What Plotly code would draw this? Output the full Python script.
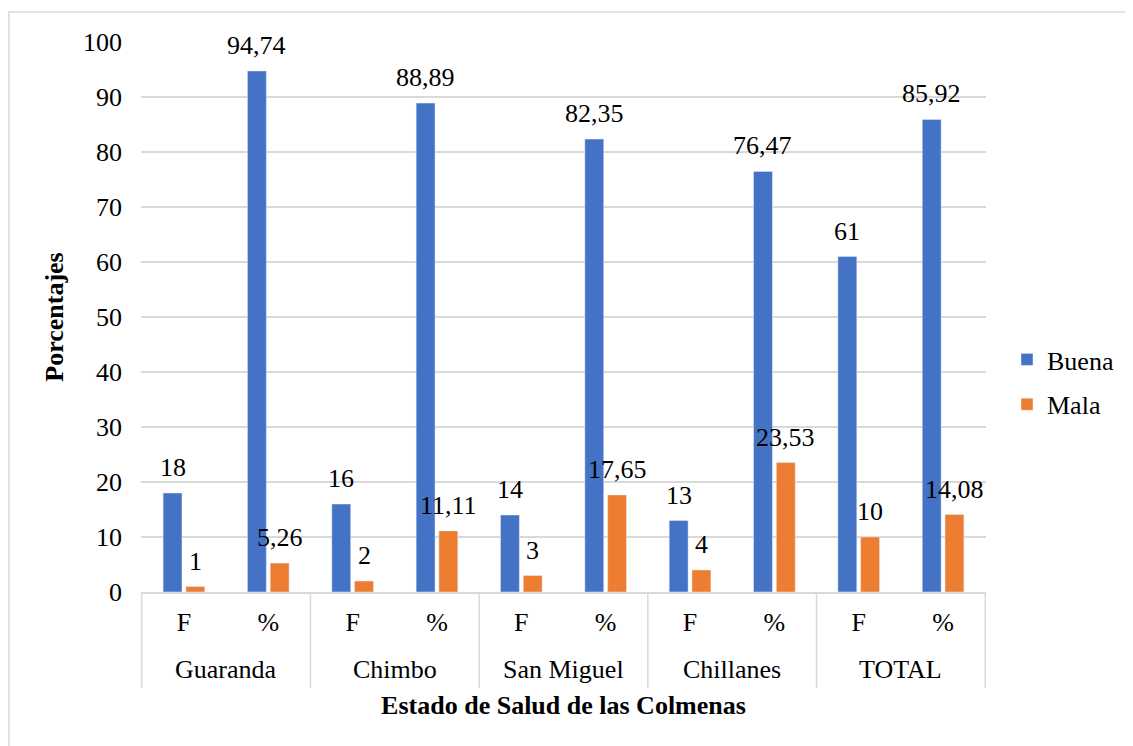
import plotly.graph_objects as go

groups = ["Guaranda", "Guaranda", "Chimbo", "Chimbo", "San Miguel", "San Miguel",
          "Chillanes", "Chillanes", "TOTAL", "TOTAL"]
subcats = ["F", "%", "F", "%", "F", "%", "F", "%", "F", "%"]
buena = [18, 94.74, 16, 88.89, 14, 82.35, 13, 76.47, 61, 85.92]
mala = [1, 5.26, 2, 11.11, 3, 17.65, 4, 23.53, 10, 14.08]
y_ticks = [0, 10, 20, 30, 40, 50, 60, 70, 80, 90, 100]


def fmt(v):
    return f"{v:g}".replace(".", ",")


# page body adds an 8px margin; work in screen pixels and convert
OFF = 8
W, H = 1133 - OFF, 746 - OFF
PL, PR, PT, PB = 141, 986, 42, 592  # plot area in screen px
L, R, T, B = PL - OFF, W - (PR - OFF), PT - OFF, H - (PB - OFF)
FONT = "Liberation Serif, Times New Roman, serif"
FS = 26

pw = W - L - R
ph = H - T - B


def px_x(x):
    return (x - OFF - L) / pw


def px_y(y):
    return (H - B - (y - OFF)) / ph


BARGAP, GROUPGAP = 0.46, 0.17
slot = (1 - BARGAP) / 2  # width per trace in category units

cats = [f"{g}|{s}" for g, s in zip(groups, subcats)]

fig = go.Figure()
series = [("Buena", buena, "#4472C4"), ("Mala", mala, "#ED7D31")]
for k, (name, vals, color) in enumerate(series):
    fig.add_trace(go.Bar(
        x=cats, y=vals, name=name, marker_color=color, legendgroup=name,
    ))
    # data labels, centred over each grouped bar
    shift = (k - (len(series) - 1) / 2) * slot
    for i, v in enumerate(vals):
        fig.add_annotation(x=i + shift, xref="x", y=v, yref="y", text=fmt(v),
                           showarrow=False, yanchor="bottom", yshift=9,
                           font=dict(size=FS, family=FONT, color="#000000"))

# outer chart border
fig.add_shape(type="rect", xref="paper", yref="paper",
              x0=px_x(9), x1=px_x(1145), y0=px_y(760), y1=px_y(12),
              line=dict(color="#d9d9d9", width=1.5), layer="below")

# group labels and dividers of the two-level category axis
unique_groups = list(dict.fromkeys(groups))
for g in unique_groups:
    idx = [i for i, gg in enumerate(groups) if gg == g]
    fig.add_annotation(x=sum(idx) / len(idx), xref="x", y=px_y(669), yref="paper",
                       text=g, showarrow=False, yanchor="middle",
                       font=dict(size=FS, family=FONT, color="#000000"))
bounds = [-0.5] + [i + 0.5 for i in range(len(groups) - 1) if groups[i] != groups[i + 1]] + [len(groups) - 0.5]
for b in bounds:
    fig.add_shape(type="line", xref="x", yref="paper", x0=b, x1=b,
                  y0=px_y(592), y1=px_y(688), line=dict(color="#d9d9d9", width=1.5))

fig.update_layout(
    width=W, height=H,
    margin=dict(l=L, r=R, t=T, b=B, autoexpand=False),
    paper_bgcolor="white", plot_bgcolor="white",
    font=dict(family=FONT, size=FS, color="#000000"),
    barmode="group", bargap=BARGAP, bargroupgap=GROUPGAP,
    showlegend=True,
    legend=dict(x=px_x(1007), y=px_y(336), xanchor="left", yanchor="top",
                font=dict(size=FS, family=FONT), tracegroupgap=8,
                bgcolor="rgba(0,0,0,0)"),
    xaxis=dict(
        type="category", tickvals=cats, ticktext=subcats,
        showgrid=False, showline=True, linecolor="#d9d9d9",
        linewidth=1.5, ticks="", tickfont=dict(size=FS, family=FONT),
        ticklabelstandoff=6,
        title=dict(text="<b>Estado de Salud de las Colmenas</b>",
                   font=dict(size=FS, family=FONT), standoff=60),
    ),
    yaxis=dict(
        range=[0, 100], tickvals=y_ticks, showgrid=True, gridcolor="#d9d9d9",
        gridwidth=1.5, zeroline=False, showline=False, ticks="",
        tickfont=dict(size=FS, family=FONT), ticklabelstandoff=18,
        title=dict(text="<b>Porcentajes</b>", font=dict(size=FS, family=FONT),
                   standoff=11),
    ),
)

fig.write_html("out.html")
